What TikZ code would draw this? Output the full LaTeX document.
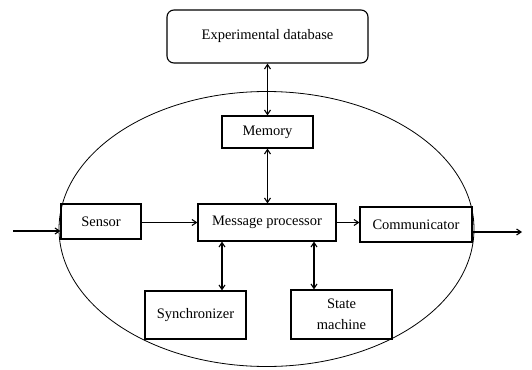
\documentclass[tikz,border=0pt]{standalone}
\usepackage{fontspec}
\setmainfont{Liberation Serif}
\usetikzlibrary{arrows.meta}
\begin{document}
\begin{tikzpicture}[x=1pt,y=-1pt,
  blk/.style={draw,line width=1.1pt,inner sep=0pt,align=center,font=\fontsize{14.5}{21}\selectfont},
  arr/.style={line width=1.1pt,-{Straight Barb[length=4.5pt,width=6pt]}},
  darr/.style={line width=1.1pt,{Straight Barb[length=4.5pt,width=6pt]}-{Straight Barb[length=4.5pt,width=6pt]}}]
\useasboundingbox (0,0) rectangle (532,369);
\draw[line width=0.8pt] (266.5,229) ellipse [x radius=207.5, y radius=137.5];
\node[blk,rounded corners=7pt,minimum width=201pt,minimum height=53pt] (db) at (267.5,36.5) {Experimental database};
\node[blk,minimum width=91pt,minimum height=32pt] (mem) at (267.5,132) {Memory};
\node[blk,minimum width=80pt,minimum height=35pt] (sensor) at (101,221.5) {Sensor};
\node[blk,minimum width=138pt,minimum height=37pt] (mp) at (267,222.5) {Message processor};
\node[blk,minimum width=112pt,minimum height=35pt] (comm) at (416,224.5) {Communicator};
\node[blk,minimum width=101pt,minimum height=48pt] (sync) at (195.5,315) {Synchronizer};
\node[blk,minimum width=101pt,minimum height=49pt] (sm) at (341.5,314.5) {State\\machine};
\coordinate (in) at (13,231);
\coordinate (out) at (522,232);
\draw[darr] (db.south) -- (mem.north);
\draw[darr] (mem.south) -- (mem.south |- mp.north);
\draw[arr] (in) -- (in -| sensor.west);
\draw[arr] (sensor.east |- mp.west) -- (mp.west);
\draw[arr] (mp.east |- comm.west) ++(0,-2) coordinate (a) (mp.east |- a) -- (comm.west |- a);
\draw[arr] (comm.east |- out) -- (out);
\draw[darr] (sync.north -| 222,0) -- (mp.south -| 222,0);
\draw[darr] (sm.north -| 314,0) -- (mp.south -| 314,0);
\end{tikzpicture}
\end{document}
